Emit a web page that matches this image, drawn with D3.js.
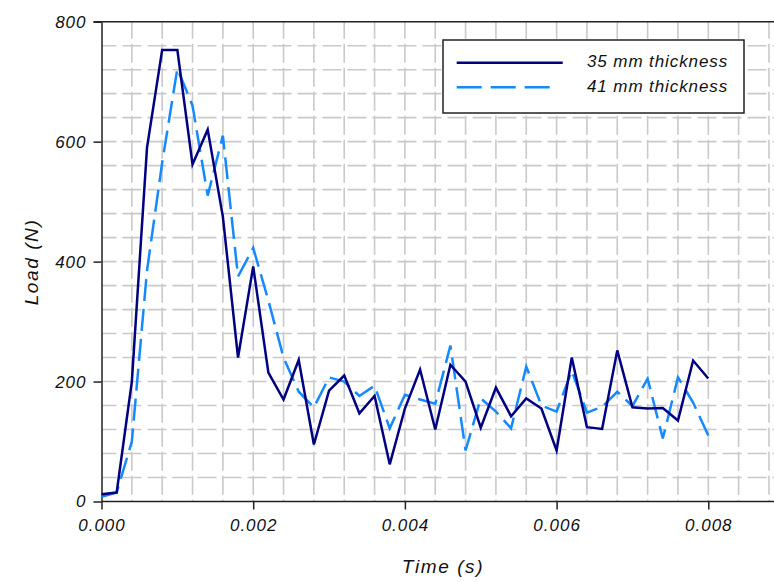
<!DOCTYPE html>
<html>
<head>
<meta charset="utf-8">
<script src="https://cdn.jsdelivr.net/npm/d3@7/dist/d3.min.js"></script>
<style>
  html, body { margin: 0; padding: 0; background: #ffffff; }
  svg { display: block; }
  text { font-family: "Liberation Sans", Arial, sans-serif; font-style: italic; fill: #111; }
</style>
</head>
<body>
<svg id="chart" width="774" height="582"></svg>
<script>
// ---- data ----
const times = [0, 0.0002, 0.0004, 0.0006, 0.0008, 0.0010, 0.0012, 0.0014, 0.0016, 0.0018,
  0.0020, 0.0022, 0.0024, 0.0026, 0.0028, 0.0030, 0.0032, 0.0034, 0.0036, 0.0038,
  0.0040, 0.0042, 0.0044, 0.0046, 0.0048, 0.0050, 0.0052, 0.0054, 0.0056, 0.0058,
  0.0060, 0.0062, 0.0064, 0.0066, 0.0068, 0.0070, 0.0072, 0.0074, 0.0076, 0.0078, 0.0080];
const load35 = [12, 15, 200, 590, 753, 753, 562, 620, 475, 240,
  392, 215, 170, 236, 95, 185, 210, 147, 176, 62,
  155, 220, 120, 228, 200, 123, 190, 142, 172, 155,
  85, 240, 124, 121, 252, 157, 155, 156, 135, 235, 205];
const load41 = [8, 15, 100, 385, 565, 722, 660, 510, 610, 375,
  423, 335, 240, 183, 157, 207, 200, 176, 193, 122,
  178, 170, 163, 260, 85, 172, 150, 122, 225, 160,
  150, 218, 148, 158, 183, 159, 205, 105, 207, 165, 110];
const seriesNames = ["35 mm thickness", "41 mm thickness"];
const xTickValues = [0, 0.002, 0.004, 0.006, 0.008];
const yTickValues = [0, 200, 400, 600, 800];
const xLabel = "Time (s)";
const yLabel = "Load (N)";

// ---- layout ----
const svg = d3.select("#chart");
const x0 = 101.5, yBottom = 501.5, yTop = 21.7;
const pxPerUnit = 151.7 / 0.002;
const xMax = 0.0089;
const x = d3.scaleLinear().domain([0, xMax]).range([x0, x0 + xMax * pxPerUnit]);
const y = d3.scaleLinear().domain([0, 800]).range([yBottom, yTop]);

// grid
const gridColor = "#c9c9c9";
const g = svg.append("g");
g.selectAll("line.v").data(d3.range(0.0004, xMax + 1e-9, 0.0004)).enter().append("line")
  .attr("x1", d => x(d)).attr("x2", d => x(d))
  .attr("y1", yTop).attr("y2", yBottom)
  .attr("stroke", gridColor).attr("stroke-width", 1.6)
  .attr("stroke-dasharray", "19,5").attr("stroke-dashoffset", 2);
g.selectAll("line.h").data(d3.range(40, 800, 40)).enter().append("line")
  .attr("x1", x0).attr("x2", 774)
  .attr("y1", d => y(d)).attr("y2", d => y(d))
  .attr("stroke", gridColor).attr("stroke-width", 1.6)
  .attr("stroke-dasharray", "19,6").attr("stroke-dashoffset", 4);

// frame top line
svg.append("line").attr("x1", x0 - 8).attr("x2", 774).attr("y1", yTop).attr("y2", yTop)
  .attr("stroke", "#222").attr("stroke-width", 1.5);

// axes
const xAxis = svg.append("g").attr("transform", `translate(0,${yBottom})`)
  .call(d3.axisBottom(x).tickValues(xTickValues).tickFormat(d3.format(".3f")).tickSize(8).tickPadding(9).tickSizeOuter(0));
const yAxis = svg.append("g").attr("transform", `translate(${x0},0)`)
  .call(d3.axisLeft(y).tickValues(yTickValues).tickFormat(d3.format("d")).tickSize(8).tickPadding(7).tickSizeOuter(0));
[xAxis, yAxis].forEach(a => {
  a.select(".domain").attr("stroke", "#222").attr("stroke-width", 1.5);
  a.selectAll(".tick line").attr("stroke", "#222").attr("stroke-width", 1.5);
  a.selectAll(".tick text").attr("font-size", 17).attr("fill", "#111")
    .attr("letter-spacing", 1)
    .style("font-family", '"Liberation Sans", Arial, sans-serif').style("font-style", "italic");
});
xAxis.select(".domain").attr("d", `M${x0},0H774`);

// lines
const line = d3.line().x((d, i) => x(times[i])).y(d => y(d));
svg.append("path").datum(load41).attr("d", line)
  .attr("fill", "none").attr("stroke", "#1589ff").attr("stroke-width", 2.5)
  .attr("stroke-dasharray", "22,8");
svg.append("path").datum(load35).attr("d", line)
  .attr("fill", "none").attr("stroke", "#000080").attr("stroke-width", 2.5)
  .attr("stroke-linejoin", "miter");

// axis titles
svg.append("text").attr("x", 443).attr("y", 568).attr("text-anchor", "middle")
  .attr("dominant-baseline", "middle").attr("font-size", 19).attr("letter-spacing", 1.6).text(xLabel);
svg.append("text").attr("transform", "translate(33,262) rotate(-90)").attr("text-anchor", "middle")
  .attr("dominant-baseline", "middle").attr("font-size", 19).attr("letter-spacing", 1.6).text(yLabel);

// legend
const lg = svg.append("g");
lg.append("rect").attr("x", 443).attr("y", 40).attr("width", 301).attr("height", 73)
  .attr("fill", "#fff").attr("stroke", "#222").attr("stroke-width", 1.5);
lg.append("line").attr("x1", 456.7).attr("x2", 562.7).attr("y1", 62.7).attr("y2", 62.7)
  .attr("stroke", "#000080").attr("stroke-width", 2.5);
lg.append("line").attr("x1", 456.7).attr("x2", 551).attr("y1", 87.3).attr("y2", 87.3)
  .attr("stroke", "#1589ff").attr("stroke-width", 2.5).attr("stroke-dasharray", "25,9");
lg.selectAll("text.lab").data(seriesNames).enter().append("text")
  .attr("x", 587).attr("y", (d, i) => 62.7 + i * 24.6)
  .attr("dominant-baseline", "middle").attr("font-size", 17).attr("letter-spacing", 0.9).text(d => d);
</script>
</body>
</html>
